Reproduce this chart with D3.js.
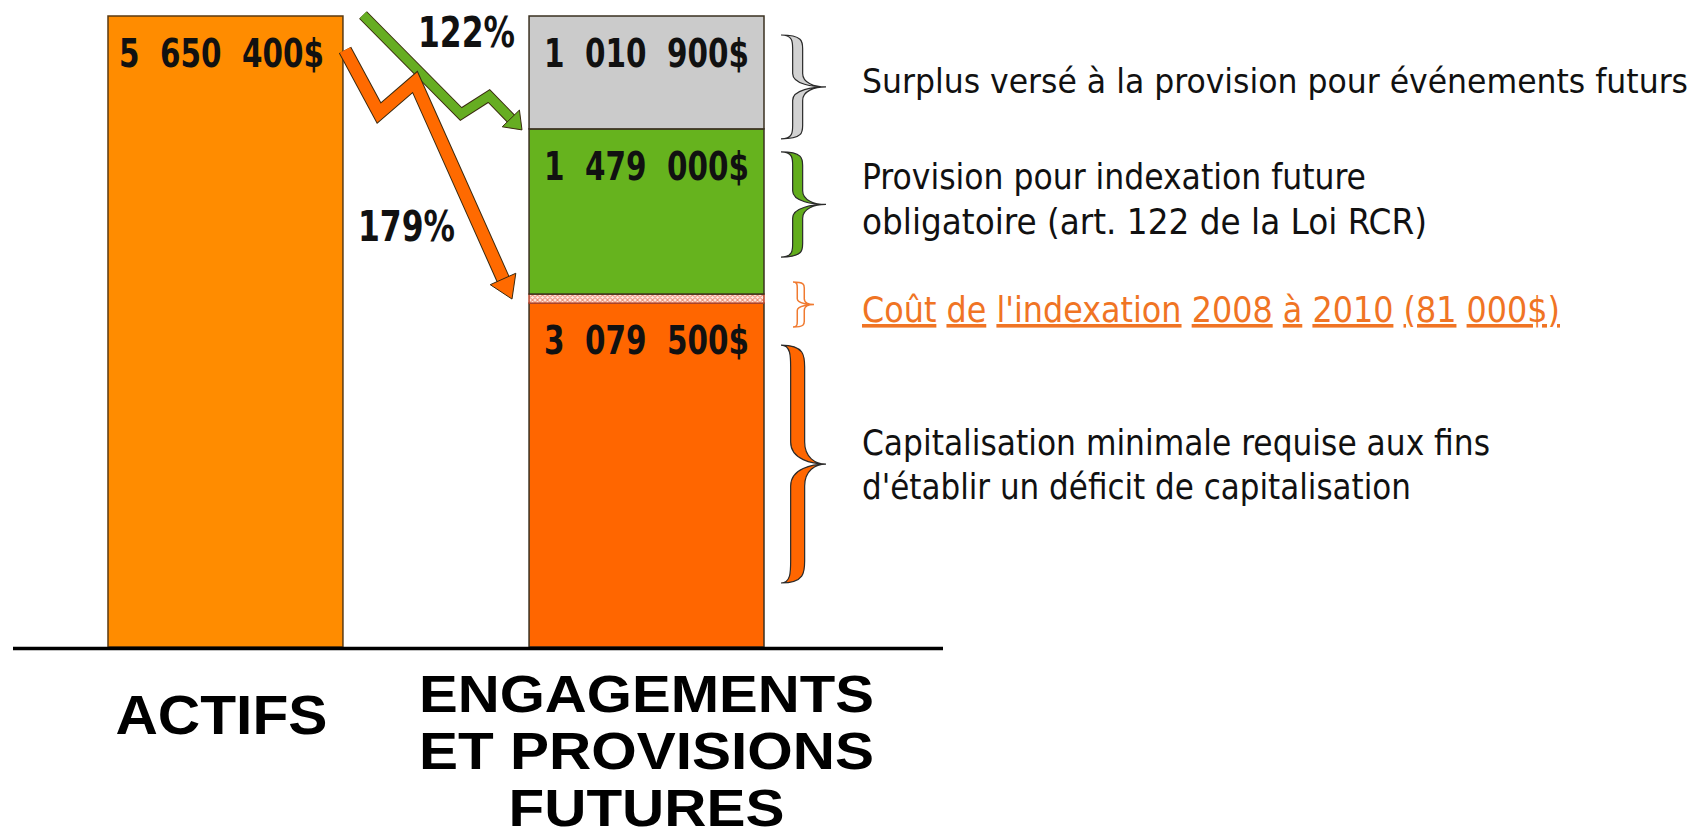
<!DOCTYPE html>
<html>
<head>
<meta charset="utf-8">
<script src="https://cdn.jsdelivr.net/npm/d3@7"></script>
<style>
  body { margin: 0; background: #fff; }
  svg { display: block; }
</style>
</head>
<body>
<div id="chart"></div>
<script>
// ---- data ----
var categories = ["ACTIFS", "ENGAGEMENTS ET PROVISIONS FUTURES"];
var categoryLines = [["ACTIFS"], ["ENGAGEMENTS", "ET PROVISIONS", "FUTURES"]];
var actifsValue = 5650400;
// bottom -> top stack of the right bar
var segmentNames = ["capitalisation", "indexation", "provision", "surplus"];
var segmentValues = [3079500, 81000, 1479000, 1010900];
var valueLabels = ["5  650  400$", "3  079  500$", null, "1  479  000$", "1  010  900$"];
var ratioLabels = ["122%", "179%"];
var noteLines = [
  ["Surplus versé à la provision pour événements futurs"],
  ["Provision pour indexation future", "obligatoire (art. 122 de la Loi RCR)"],
  ["Coût de l'indexation 2008 à 2010 (81 000$)"],
  ["Capitalisation minimale requise aux fins", "d'établir un déficit de capitalisation"]
];

// ---- look ----
var width = 1703, height = 839;
var narrow = "'Liberation Sans Narrow', 'Arial Narrow', 'DejaVu Sans Condensed', sans-serif";
var wide = "'Liberation Sans', Arial, sans-serif";
var segColors = {surplus: "#cbcbcb", provision: "#66b31e", indexation: "url(#hatch)", capitalisation: "#ff6600"};
var braceColors = {surplus: "#d2d2d2", provision: "#62ad1c", indexation: "#fff", capitalisation: "#ff6600"};

var svg = d3.select("#chart").append("svg")
  .attr("width", width)
  .attr("height", height);

var defs = svg.append("defs");
var pat = defs.append("pattern")
  .attr("id", "hatch")
  .attr("patternUnits", "userSpaceOnUse")
  .attr("width", 5).attr("height", 5);
pat.append("rect").attr("width", 5).attr("height", 5).attr("fill", "#fbe4dc");
pat.append("path").attr("d", "M0,2.5 L2.5,0 L5,2.5 L2.5,5 Z")
  .attr("fill", "none").attr("stroke", "#e8603c").attr("stroke-width", 0.8);

var x = d3.scaleBand()
  .domain(categories)
  .range([108, 764])
  .paddingInner(0.442)
  .paddingOuter(0);

var y = d3.scaleLinear()
  .domain([0, actifsValue])
  .range([647, 16]);

// stack the right bar
var stack = [];
var acc = 0;
segmentValues.forEach(function(v, i){
  stack.push({name: segmentNames[i], y0: acc, y1: acc + v});
  acc += v;
});

// ---- bars ----
svg.append("rect")
  .attr("x", x(categories[0]))
  .attr("y", y(actifsValue))
  .attr("width", x.bandwidth())
  .attr("height", y(0) - y(actifsValue))
  .attr("fill", "#ff8c00")
  .attr("stroke", "#5a3a12")
  .attr("stroke-width", 1.5);

svg.selectAll(".seg")
  .data(stack)
  .enter()
  .append("rect")
  .attr("class", "seg")
  .attr("x", x(categories[1]))
  .attr("y", function(d){ return y(d.y1); })
  .attr("width", x.bandwidth())
  .attr("height", function(d){ return y(d.y0) - y(d.y1); })
  .attr("fill", function(d){ return segColors[d.name]; })
  .attr("stroke", function(d){ return d.name == "indexation" ? "#b8452a" : "#3a3020"; })
  .attr("stroke-width", 1.5);

// value labels, baseline ~51px under each segment top
function valueText(cx, top, txt){
  svg.append("text")
    .attr("x", cx)
    .attr("y", top + 51)
    .attr("text-anchor", "middle")
    .attr("font-family", narrow)
    .attr("font-weight", "bold")
    .attr("font-size", 39)
    .attr("fill", "#111")
    .style("white-space", "pre")
    .attr("textLength", 205)
    .attr("lengthAdjust", "spacingAndGlyphs")
    .text(txt);
}
valueText(x(categories[0]) + x.bandwidth()/2 - 4, y(actifsValue), valueLabels[0]);
stack.forEach(function(d, i){
  if (valueLabels[i+1]) valueText(x(categories[1]) + x.bandwidth()/2, y(d.y1), valueLabels[i+1]);
});

// ---- base line ----
svg.append("line")
  .attr("x1", 13).attr("x2", 943)
  .attr("y1", y(0) + 1.5).attr("y2", y(0) + 1.5)
  .attr("stroke", "#000")
  .attr("stroke-width", 3.5);

// ---- category labels ----
var catBaselines = [[734], [712, 769, 826]];
var catWidths = [[212], [455, 455, 276]];
var catSizes = [[55], [51, 51, 51]];
categoryLines.forEach(function(lines, i){
  lines.forEach(function(line, j){
    svg.append("text")
      .attr("x", x(categories[i]) + x.bandwidth()/2 - (i == 0 ? 4 : 0))
      .attr("y", catBaselines[i][j])
      .attr("text-anchor", "middle")
      .attr("font-family", wide)
      .attr("font-weight", "bold")
      .attr("font-size", catSizes[i][j])
      .attr("fill", "#000")
      .attr("textLength", catWidths[i][j])
      .attr("lengthAdjust", "spacingAndGlyphs")
      .text(line);
  });
});

// ---- zigzag arrows ----
function zigArrow(pts, tip, w, headLen, headHalf, color){
  var g = svg.append("g");
  var dx = tip[0] - pts[pts.length - 2][0], dy = tip[1] - pts[pts.length - 2][1];
  var len = Math.sqrt(dx*dx + dy*dy);
  var ux = dx/len, uy = dy/len;
  var bx = tip[0] - ux*headLen, by = tip[1] - uy*headLen;
  var line = d3.line();
  var all = pts.slice(0, pts.length - 1).concat([[bx + ux*2, by + uy*2]]);
  g.append("path").attr("d", line(all))
    .attr("fill", "none").attr("stroke", "#3a2a10")
    .attr("stroke-width", w + 2).attr("stroke-linejoin", "miter");
  g.append("path").attr("d", line(all))
    .attr("fill", "none").attr("stroke", color)
    .attr("stroke-width", w).attr("stroke-linejoin", "miter");
  g.append("path")
    .attr("d", line([[bx - uy*headHalf, by + ux*headHalf], tip, [bx + uy*headHalf, by - ux*headHalf]]) + "Z")
    .attr("fill", color).attr("stroke", "#3a2a10").attr("stroke-width", 1);
}

var greenTipY = y(stack[2].y1);
zigArrow([[363, 15], [461, 114], [489, 96], [0, 0]], [522, greenTipY + 1], 9, 16, 12, "#66ad22");
var orangeTipY = y(stack[1].y1);
zigArrow([[345, 50], [379, 113], [415, 82], [0, 0]], [512, orangeTipY + 5], 12, 22, 14, "#ff6a00");

// ratio labels
var ratioPos = [[418, 47], [358, 241]];
ratioLabels.forEach(function(t, i){
  svg.append("text")
    .attr("x", ratioPos[i][0]).attr("y", ratioPos[i][1])
    .attr("font-family", narrow)
    .attr("font-weight", "bold")
    .attr("font-size", 42)
    .attr("fill", "#111")
    .attr("textLength", 97)
    .attr("lengthAdjust", "spacingAndGlyphs")
    .text(t);
});

// ---- braces ----
function bracePath(xl, y0, y1, xt, t){
  var h = y1 - y0, ym = (y0 + y1)/2;
  var xm = xl + (xt - xl)*0.37;
  var q = Math.min(h*0.13, 22);
  var r = xm + t/2, l = xm - t/2;
  var p = d3.path();
  p.moveTo(xl, y0);
  p.bezierCurveTo(r, y0, r, y0 + q*0.5, r, y0 + q);
  p.lineTo(r, ym - q);
  p.bezierCurveTo(r, ym - q*0.3, (r + xt)/2, ym, xt, ym);
  p.bezierCurveTo((r + xt)/2, ym, r, ym + q*0.3, r, ym + q);
  p.lineTo(r, y1 - q);
  p.bezierCurveTo(r, y1 - q*0.5, r, y1, xl, y1);
  p.bezierCurveTo(l, y1, l, y1 - q*0.5, l, y1 - q);
  p.lineTo(l, ym + q);
  p.bezierCurveTo(l, ym + q*0.2, (l + xt)/2 + 4, ym, xt, ym);
  p.bezierCurveTo((l + xt)/2 + 4, ym, l, ym - q*0.2, l, ym - q);
  p.lineTo(l, y0 + q);
  p.bezierCurveTo(l, y0 + q*0.5, l, y0, xl, y0);
  p.closePath();
  return p.toString();
}

// brace extents in px relative to each segment [top inset, bottom inset, thickness]
var braceLayout = {
  surplus: [19, -10, 10],
  provision: [23, 37, 10],
  indexation: [-12, -24, 7],
  capitalisation: [42, 64, 14]
};
var braceOrder = ["surplus", "provision", "indexation", "capitalisation"];
braceOrder.forEach(function(name){
  var s = stack.filter(function(d){ return d.name == name; })[0];
  var lay = braceLayout[name];
  var top = y(s.y1) + lay[0], bot = y(s.y0) - lay[1];
  var isIdx = name == "indexation";
  svg.append("path")
    .attr("d", bracePath(isIdx ? 793 : 781, top, bot, isIdx ? 814 : 826, lay[2]))
    .attr("fill", braceColors[name])
    .attr("stroke", isIdx ? "#f07a30" : "#2a2a2a")
    .attr("stroke-width", isIdx ? 1.5 : 1.2);
});

// ---- notes ----
var noteX = 862;
var noteBaselines = [[93], [189, 234], [322], [455, 499]];
var noteWidths = [[826], [504, 565], [698], [628, 549]];
var noteSizes = [[34], [36, 36], [36], [36, 36]];
noteLines.forEach(function(lines, i){
  lines.forEach(function(line, j){
    var t = svg.append("text")
      .attr("x", noteX)
      .attr("y", noteBaselines[i][j])
      .attr("font-family", narrow)
      .attr("font-size", noteSizes[i][j])
      .attr("fill", i == 2 ? "#f07424" : "#111")
      .attr("textLength", noteWidths[i][j])
      .attr("lengthAdjust", "spacingAndGlyphs");
    if (i == 2) {
      // underline each word, not the gaps
      var words = line.split(" ");
      words.forEach(function(w, k){
        t.append("tspan").style("text-decoration", "underline").text(w);
        if (k < words.length - 1) t.append("tspan").text(" ");
      });
    } else {
      t.text(line);
    }
  });
});
</script>
</body>
</html>
